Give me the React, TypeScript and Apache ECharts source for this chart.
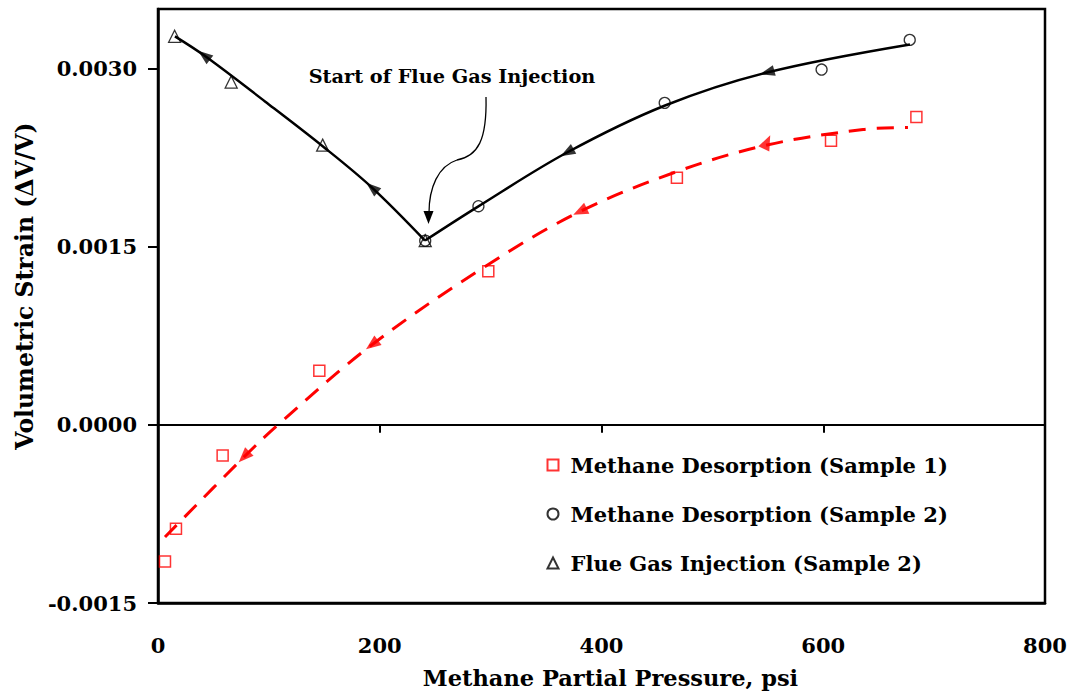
import React, { useEffect, useRef } from "react";
import * as echarts from "echarts";

const FONT = '"DejaVu Serif", "Liberation Serif", serif';

// ---- data (x: psi, y: volumetric strain) ----
const xTicks = [0, 200, 400, 600, 800];
const yTicks = [-0.0015, 0, 0.0015, 0.003];

const desorptionSample1: number[][] = [
  [6.3, -0.00115], [16.2, -0.000876], [58.3, -0.000258], [145.5, 0.000455],
  [297.9, 0.001292], [468, 0.00208], [607, 0.00239], [684, 0.00259],
];
const desorptionSample2: number[][] = [
  [241, 0.00155], [289, 0.00184], [457, 0.00271], [598.5, 0.00299], [678, 0.00324],
];
const flueGasSample2: number[][] = [
  [15, 0.00327], [66, 0.002885], [148.5, 0.002354], [241, 0.00155],
];

// trend lines
const trendSample1: number[][] = [
  [6.3, -0.000944], [77.6, -0.00027], [108.2, 0], [193, 0.000674], [297.6, 0.001348],
  [380.6, 0.001795], [468.1, 0.002132], [549.3, 0.002355], [635.9, 0.002486], [676.4, 0.002503],
];
const trendSample2: number[][] = [
  [240.8, 0.001551], [288.6, 0.001837], [368.9, 0.002292], [457.3, 0.002688],
  [549.3, 0.002966], [678.2, 0.003202],
];
const trendFlueGas: number[][] = [
  [15.3, 0.00327], [41.5, 0.00311], [96.5, 0.002722], [148.8, 0.002343],
  [193, 0.001997], [240.8, 0.001551],
];

// arrowheads on the trend lines: [x, y, direction in degrees (ccw from up)]
const arrowsSample1: number[][] = [
  [77.6, -0.00027, 135], [193, 0.000674, 127], [380.6, 0.001795, 116], [549.3, 0.00238, 335],
];
const arrowsSample2: number[][] = [
  [368.9, 0.002292, 119], [549.3, 0.002966, 105],
];
const arrowsFlueGas: number[][] = [
  [41.5, 0.00311, 52], [193, 0.001997, 50],
];

const seriesNames = [
  "Methane Desorption (Sample 1)",
  "Methane Desorption (Sample 2)",
  "Flue Gas Injection (Sample 2)",
];

const RED = "#ff0000";
const BLACK = "#000000";

const boldText = (size: number) => ({
  fontFamily: FONT,
  fontWeight: "bold" as const,
  fontSize: size,
  color: BLACK,
});

function arrowSeries(data: number[][], color: string, size: number[]) {
  return {
    type: "scatter",
    silent: true,
    symbol: "triangle",
    symbolSize: size,
    itemStyle: { color },
    z: 4,
    data: data.map((a) => ({ value: [a[0], a[1]], symbolRotate: a[2] })),
  };
}

export default function App() {
  const ref = useRef<HTMLDivElement>(null);

  useEffect(() => {
    if (!ref.current) return;
    const chart = echarts.init(ref.current, undefined, { renderer: "svg" });

    const option: any = {
      animation: false,
      backgroundColor: "#ffffff",
      grid: {
        left: 158,
        right: 28,
        top: 9,
        bottom: 93,
        show: true,
        borderColor: BLACK,
        borderWidth: 2.5,
        backgroundColor: "transparent",
        outerBoundsMode: "none",
      },
      legend: {
        data: seriesNames,
        orient: "vertical",
        left: 546.5,
        top: 454,
        padding: 0,
        itemWidth: 11,
        itemHeight: 11,
        itemGap: 27,
        selectedMode: false,
        textStyle: { ...boldText(21), lineHeight: 22, padding: [0, 0, 0, 7] },
      },
      xAxis: [
        {
          type: "value",
          min: 0,
          max: 800,
          interval: 200,
          position: "bottom",
          name: "Methane Partial Pressure, psi",
          nameLocation: "middle",
          nameGap: 63,
          nameTextStyle: { ...boldText(22.5), padding: [0, 0, 0, 18] },
          axisLine: { onZero: false, lineStyle: { color: BLACK, width: 2.5 } },
          axisTick: { show: false },
          splitLine: { show: false },
          axisLabel: {
            ...boldText(21),
            margin: 32,
            customValues: xTicks,
            formatter: (v: number) => String(v),
          },
        },
        {
          type: "value",
          min: 0,
          max: 800,
          interval: 200,
          position: "bottom",
          axisLine: { onZero: true, lineStyle: { color: BLACK, width: 2 } },
          axisTick: { show: true, length: 8, lineStyle: { color: BLACK, width: 2 } },
          axisLabel: { show: false },
          splitLine: { show: false },
        },
      ],
      yAxis: {
        type: "value",
        min: -0.0015,
        max: 0.0035,
        interval: 0.0015,
        position: "left",
        name: "Volumetric Strain (\u0394V/V)",
        nameLocation: "middle",
        nameGap: 120,
        nameRotate: 90,
        nameTextStyle: { ...boldText(23.5), padding: [0, 0, 0, 40] },
        axisLine: { onZero: false, lineStyle: { color: BLACK, width: 2.5 } },
        axisTick: {
          show: true,
          length: 10,
          customValues: yTicks,
          lineStyle: { color: BLACK, width: 2 },
        },
        splitLine: { show: false },
        axisLabel: {
          ...boldText(21),
          margin: 21,
          customValues: yTicks,
          formatter: (v: number) => (Math.abs(v) < 1e-12 ? 0 : v).toFixed(4),
        },
      },
      graphic: [
        {
          type: "text",
          x: 452,
          y: 76,
          z: 10,
          style: {
            text: "Start of Flue Gas Injection",
            fontFamily: FONT,
            fontWeight: "bold",
            fontSize: 19.3,
            fill: BLACK,
            align: "center",
            verticalAlign: "middle",
          },
        },
        {
          type: "bezierCurve",
          z: 10,
          shape: { x1: 486, y1: 97, x2: 457, y2: 160, cpx1: 487, cpy1: 140, cpx2: 478, cpy2: 156 },
          style: { stroke: BLACK, lineWidth: 1.3, fill: "none" },
        },
        {
          type: "bezierCurve",
          z: 10,
          shape: { x1: 457, y1: 160, x2: 429, y2: 213, cpx1: 438, cpy1: 166, cpx2: 429, cpy2: 188 },
          style: { stroke: BLACK, lineWidth: 1.3, fill: "none" },
        },
        {
          type: "polygon",
          z: 10,
          shape: { points: [[428.5, 224], [423.5, 211], [433.5, 211]] },
          style: { fill: BLACK },
        },
      ],
      series: [
        {
          type: "line",
          silent: true,
          smooth: 0.35,
          symbol: "none",
          data: trendSample1,
          lineStyle: { color: RED, width: 3, type: [17, 11] },
          z: 2,
        },
        {
          type: "line",
          silent: true,
          smooth: 0.35,
          symbol: "none",
          data: trendSample2,
          lineStyle: { color: BLACK, width: 2.5 },
          z: 2,
        },
        {
          type: "line",
          silent: true,
          smooth: 0.35,
          symbol: "none",
          data: trendFlueGas,
          lineStyle: { color: BLACK, width: 2.5 },
          z: 2,
        },
        arrowSeries(arrowsSample1, RED, [12, 15]),
        arrowSeries(arrowsSample2, BLACK, [11, 15]),
        arrowSeries(arrowsFlueGas, BLACK, [11, 15]),
        {
          name: seriesNames[0],
          type: "scatter",
          symbol: "rect",
          symbolSize: 11,
          itemStyle: { color: "transparent", borderColor: RED, borderWidth: 1.5 },
          data: desorptionSample1,
          z: 5,
        },
        {
          name: seriesNames[1],
          type: "scatter",
          symbol: "circle",
          symbolSize: 11,
          itemStyle: { color: "transparent", borderColor: BLACK, borderWidth: 1.3 },
          data: desorptionSample2,
          z: 5,
        },
        {
          name: seriesNames[2],
          type: "scatter",
          symbol: "triangle",
          symbolSize: 12,
          itemStyle: { color: "transparent", borderColor: BLACK, borderWidth: 1.3 },
          data: flueGasSample2,
          z: 5,
        },
      ],
    };

    chart.setOption(option);
    return () => chart.dispose();
  }, []);

  return (
    <div
      ref={ref}
      style={{ position: "fixed", left: 0, top: 0, width: 1073, height: 696, background: "#fff" }}
    />
  );
}
